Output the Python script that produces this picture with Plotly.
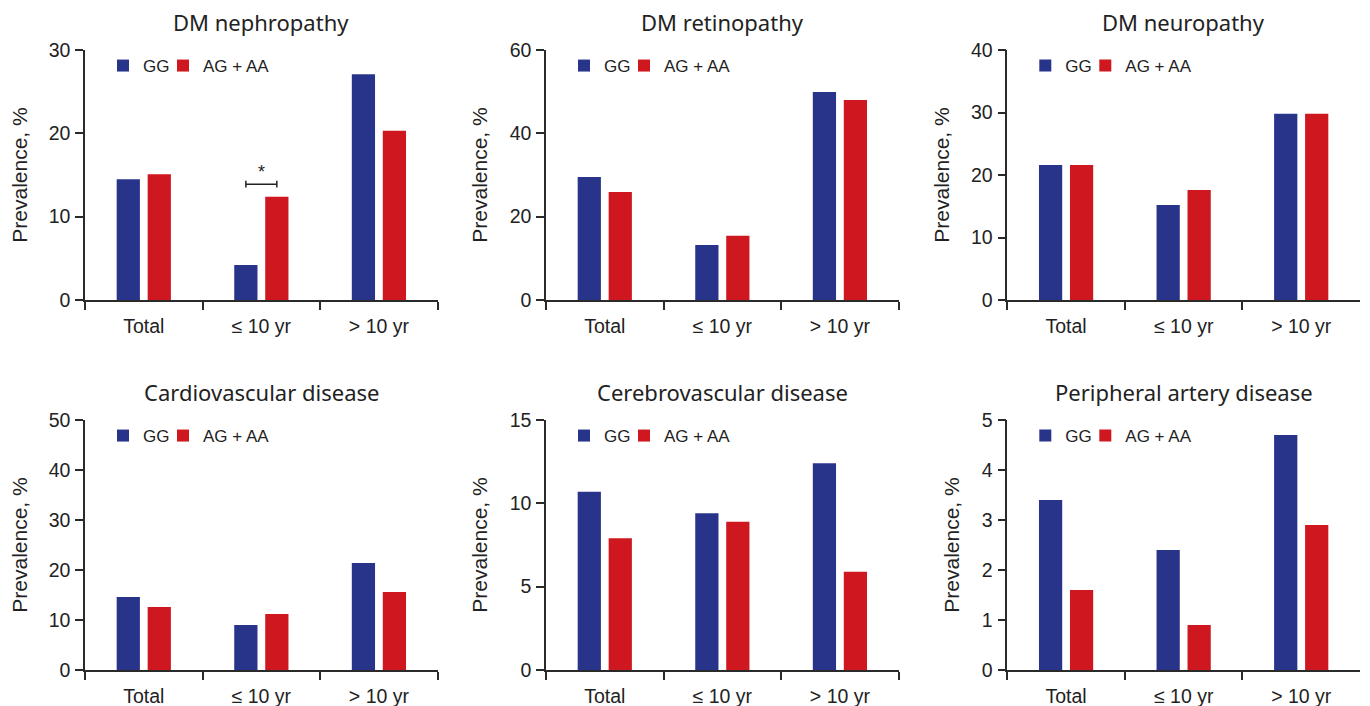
import plotly.graph_objects as go

# ---------------- data ----------------
categories = ["Total", "≤ 10 yr", "> 10 yr"]
panel_titles = ["DM nephropathy", "DM retinopathy", "DM neuropathy",
                "Cardiovascular disease", "Cerebrovascular disease", "Peripheral artery disease"]
series_names = ["GG", "AG + AA"]

nephropathy_gg = [14.5, 4.2, 27.1]
nephropathy_ag = [15.1, 12.4, 20.3]
retinopathy_gg = [29.5, 13.2, 49.9]
retinopathy_ag = [25.9, 15.4, 48.0]
neuropathy_gg = [21.6, 15.2, 29.8]
neuropathy_ag = [21.6, 17.6, 29.8]
cardio_gg = [14.6, 9.0, 21.4]
cardio_ag = [12.6, 11.2, 15.6]
cerebro_gg = [10.7, 9.4, 12.4]
cerebro_ag = [7.9, 8.9, 5.9]
pad_gg = [3.4, 2.4, 4.7]
pad_ag = [1.6, 0.9, 2.9]

y_max = [30, 60, 40, 50, 15, 5]
y_step = [10, 20, 10, 10, 5, 1]

# significance bracket (DM nephropathy, ≤ 10 yr)
sig_category_index = 1
sig_bracket_value = 13.9
sig_cap_half = 0.4
sig_star_value = 15.4
sig_label = "*"

gg_series = [nephropathy_gg, retinopathy_gg, neuropathy_gg, cardio_gg, cerebro_gg, pad_gg]
ag_series = [nephropathy_ag, retinopathy_ag, neuropathy_ag, cardio_ag, cerebro_ag, pad_ag]

# ---------------- style ----------------
W, H = 1370, 706
PAGE_OFFSET = 8          # default body margin of the html page
BLUE = "#28348A"
RED = "#CF171F"
INK = "#222222"
AXIS = "#2a2a2a"
TICK_FONT = "Liberation Sans, Arial, sans-serif"
TEXT_FONT = "Noto Sans, Liberation Sans, sans-serif"
BARGAP = 0.473
BARGROUPGAP = 0.25

# target positions in window pixels
col_px = [(85, 437.7), (546, 898.7), (1007.3, 1360)]
row_px = [(50, 300), (420, 670)]
legend_offsets = [18, 78]   # px from the y-axis to each legend box


def fx(px):
    return (px - PAGE_OFFSET) / W


def fy(py):
    return 1 - (py - PAGE_OFFSET) / H


fig = go.Figure()
layout = dict(
    width=W, height=H,
    margin=dict(l=0, r=0, t=0, b=0, autoexpand=False),
    paper_bgcolor="white", plot_bgcolor="white",
    barmode="group", bargap=BARGAP, bargroupgap=BARGROUPGAP,
    showlegend=True,
    annotations=[], shapes=[],
)

for i in range(6):
    r, c = divmod(i, 3)
    n = i + 1
    sfx = "" if n == 1 else str(n)
    xa, ya = "x" + sfx, "y" + sfx
    x0, x1 = col_px[c]
    ytop, ybot = row_px[r]
    xdom = [fx(x0), fx(x1)]
    ydom = [fy(ybot), fy(ytop)]

    for k, (vals, name, color) in enumerate(((gg_series[i], series_names[0], BLUE),
                                             (ag_series[i], series_names[1], RED))):
        lg_num = 2 * i + k + 1
        lg = "legend" if lg_num == 1 else "legend" + str(lg_num)
        fig.add_trace(go.Bar(
            x=categories, y=vals, name=name, marker_color=color,
            marker_line_width=0, xaxis=xa, yaxis=ya, legend=lg,
            hoverinfo="skip",
        ))
        layout[lg] = dict(
            orientation="h", x=fx(x0 + legend_offsets[k]), xanchor="left",
            y=fy(ytop - 2), yanchor="top",
            font=dict(family=TICK_FONT, size=17, color=INK),
            bgcolor="rgba(0,0,0,0)", borderwidth=0,
            itemclick=False, itemdoubleclick=False,
        )

    layout["xaxis" + sfx] = dict(
        domain=xdom, anchor=ya, type="category",
        showline=True, linecolor=AXIS, linewidth=1.5,
        ticks="outside", tickson="boundaries", ticklen=8, tickwidth=1.5, tickcolor=AXIS,
        tickfont=dict(family=TICK_FONT, size=19.5, color=INK),
        ticklabelstandoff=8,
        showgrid=False, zeroline=False, fixedrange=True,
    )
    layout["yaxis" + sfx] = dict(
        domain=ydom, anchor=xa, range=[0, y_max[i]], dtick=y_step[i], tick0=0,
        showline=True, linecolor=AXIS, linewidth=1.5,
        ticks="outside", ticklen=8, tickwidth=1.5, tickcolor=AXIS,
        tickfont=dict(family=TICK_FONT, size=19.5, color=INK),
        ticklabelstandoff=1,
        showgrid=False, zeroline=False, fixedrange=True,
        title=dict(text="Prevalence, %", font=dict(family=TICK_FONT, size=21, color=INK), standoff=16),
    )
    layout["annotations"].append(dict(
        text=panel_titles[i], xref="paper", yref="paper",
        x=fx((x0 + x1) / 2), y=fy(ytop - 28), xanchor="center", yanchor="middle",
        showarrow=False, font=dict(family=TEXT_FONT, size=22, color=INK),
    ))

# significance bracket between the two bars of the ≤ 10 yr group in panel 1
half = (1 - BARGAP) / 4
xl, xr = sig_category_index - half, sig_category_index + half
for s in (
    dict(x0=xl, x1=xr, y0=sig_bracket_value, y1=sig_bracket_value),
    dict(x0=xl, x1=xl, y0=sig_bracket_value - sig_cap_half, y1=sig_bracket_value + sig_cap_half),
    dict(x0=xr, x1=xr, y0=sig_bracket_value - sig_cap_half, y1=sig_bracket_value + sig_cap_half),
):
    layout["shapes"].append(dict(type="line", xref="x", yref="y",
                                 line=dict(color=INK, width=1.5), **s))
layout["annotations"].append(dict(
    text=sig_label, xref="x", yref="y", x=sig_category_index, y=sig_star_value,
    showarrow=False, font=dict(family=TICK_FONT, size=18, color=INK),
    xanchor="center", yanchor="middle",
))

fig.update_layout(**layout)
fig.write_html("out.html")
